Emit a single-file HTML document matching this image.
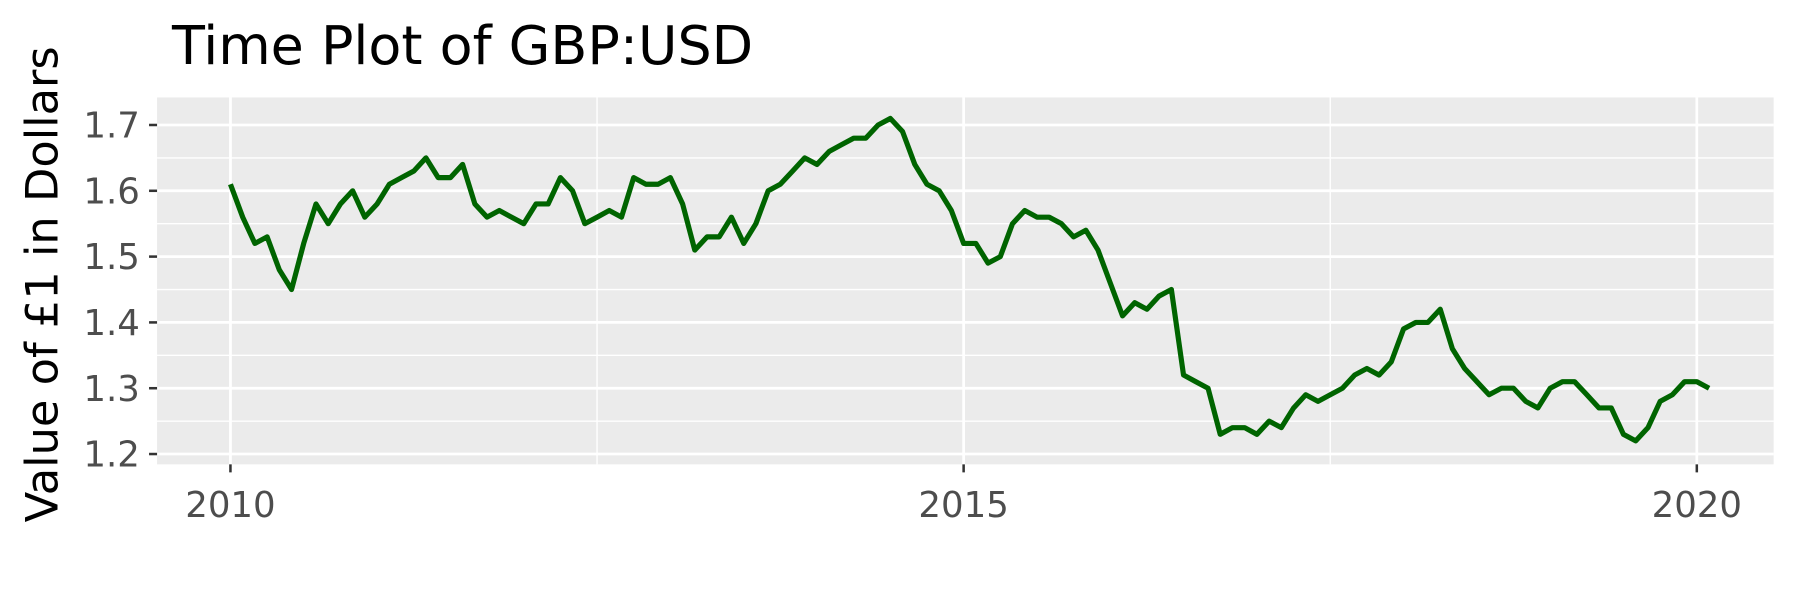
<!DOCTYPE html>
<html><head><meta charset="utf-8"><style>
html,body{margin:0;padding:0;background:#fff;}
svg{display:block;font-family:"DejaVu Sans","Liberation Sans",sans-serif;}
</style></head><body>
<svg id="chart" width="1800" height="600" viewBox="0 0 1570 523.3" xmlns="http://www.w3.org/2000/svg">
<rect x="0" y="0" width="1570" height="523.3" fill="#fff"/>
<text x="150" y="56" font-size="47" fill="#000">Time Plot of GBP:USD</text>
<text transform="translate(50,248) rotate(-90)" text-anchor="middle" font-size="39" fill="#000">Value of £1 in Dollars</text>
<rect x="137" y="85" width="1410" height="320" fill="#ebebeb"/>
<g id="grid"></g>
<g id="axes"></g>
<g id="series"></g>
</svg>
<script>
const yearTicks = [2010, 2015, 2020];
const yTicks = [1.2, 1.3, 1.4, 1.5, 1.6, 1.7];
const startYear = 2010;
const values = [
1.61,1.56,1.52,1.53,1.48,1.45,1.52,1.58,1.55,1.58,1.60,1.56,
1.58,1.61,1.62,1.63,1.65,1.62,1.62,1.64,1.58,1.56,1.57,1.56,
1.55,1.58,1.58,1.62,1.60,1.55,1.56,1.57,1.56,1.62,1.61,1.61,
1.62,1.58,1.51,1.53,1.53,1.56,1.52,1.55,1.60,1.61,1.63,1.65,
1.64,1.66,1.67,1.68,1.68,1.70,1.71,1.69,1.64,1.61,1.60,1.57,
1.52,1.52,1.49,1.50,1.55,1.57,1.56,1.56,1.55,1.53,1.54,1.51,
1.46,1.41,1.43,1.42,1.44,1.45,1.32,1.31,1.30,1.23,1.24,1.24,
1.23,1.25,1.24,1.27,1.29,1.28,1.29,1.30,1.32,1.33,1.32,1.34,
1.39,1.40,1.40,1.42,1.36,1.33,1.31,1.29,1.30,1.30,1.28,1.27,
1.30,1.31,1.31,1.29,1.27,1.27,1.23,1.22,1.24,1.28,1.29,1.31,
1.31,1.30
];
const NS = "http://www.w3.org/2000/svg";
const xScale = t => 201 + (t - 2010) * 127.9;
const yScale = v => 109 + (1.7 - v) * 574;
const grid = document.getElementById('grid');
const axes = document.getElementById('axes');
const series = document.getElementById('series');
function mk(tag, attrs, parent) {
  const e = document.createElementNS(NS, tag);
  for (const k in attrs) e.setAttribute(k, attrs[k]);
  parent.appendChild(e);
  return e;
}
for (let i = 0; i < yTicks.length - 1; i++) {
  const y = yScale((yTicks[i] + yTicks[i + 1]) / 2);
  const l = mk('line', {x1: 137, x2: 1547, y1: y, y2: y, stroke: '#fff', 'stroke-width': 1.2}, grid);
  
  
}
for (let i = 0; i < yearTicks.length - 1; i++) {
  const x = xScale((yearTicks[i] + yearTicks[i + 1]) / 2);
  const l = mk('line', {x1: x, x2: x, y1: 85, y2: 405, stroke: '#fff', 'stroke-width': 1.2}, grid);
  
  
}
yTicks.forEach(v => {
  const y = yScale(v);
  const l = mk('line', {x1: 137, x2: 1547, y1: y, y2: y, stroke: '#fff', 'stroke-width': 2.4}, grid);
  
  
  const t = mk('line', {x1: 130, x2: 137, y1: y, y2: y, stroke: '#333', 'stroke-width': 2.2}, axes);
  
  
  const tx = mk('text', {x: 122, y: y + 11, 'text-anchor': 'end', 'font-size': 31, fill: '#4d4d4d'}, axes);
  tx.textContent = v.toFixed(1);
  
  
});
yearTicks.forEach(yr => {
  const x = xScale(yr);
  const l = mk('line', {x1: x, x2: x, y1: 85, y2: 405, stroke: '#fff', 'stroke-width': 2.4}, grid);
  
  
  const t = mk('line', {x1: x, x2: x, y1: 405, y2: 412, stroke: '#333', 'stroke-width': 2.2}, axes);
  
  
  const tx = mk('text', {x: x, y: 451, 'text-anchor': 'middle', 'font-size': 31, fill: '#4d4d4d'}, axes);
  tx.textContent = String(yr);
  
  
});
const pts = values.map((v, i) => xScale(startYear + i / 12).toFixed(1) + ',' + yScale(v).toFixed(1)).join(' ');
const line = mk('polyline', {points: pts, fill: 'none', stroke: '#006400', 'stroke-width': 4.5, 'stroke-linejoin': 'round'}, series);


</script>
</body></html>
